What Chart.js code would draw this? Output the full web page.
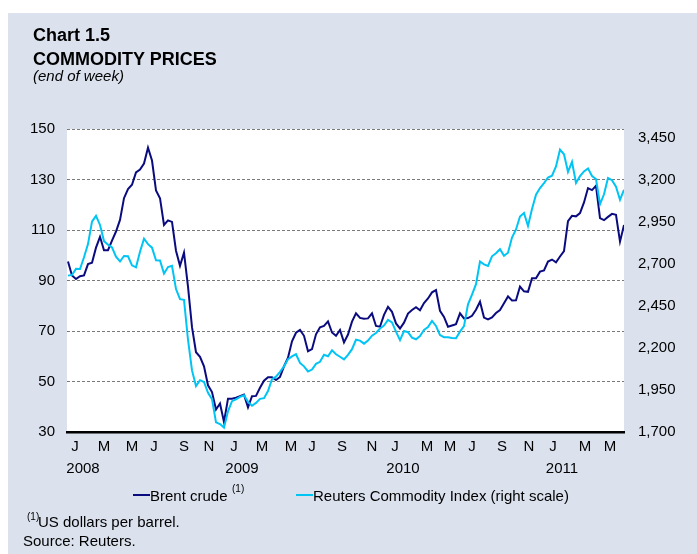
<!DOCTYPE html>
<html>
<head>
<meta charset="utf-8">
<script src="https://cdn.jsdelivr.net/npm/chart.js@4.4.1/dist/chart.umd.min.js"></script>
<style>
  html, body { margin: 0; padding: 0; background: #ffffff; }
  body { width: 697px; height: 554px; position: relative; overflow: hidden;
         font-family: 'Liberation Sans', Arial, sans-serif; color: #000; }
  #panel { position: absolute; left: 8px; top: 13px; width: 689px; height: 541px; background: #dbe2ee; }
  #cv { position: absolute; left: 0; top: 0; }
  .t { position: absolute; white-space: nowrap; }
  .h { font-weight: bold; font-size: 18px; line-height: 18px; left: 33px; }
  .sub { font-style: italic; font-size: 15px; line-height: 15px; left: 33px; top: 68px; }
  .lg { font-size: 15px; line-height: 15px; top: 488px; }
  .sw { position: absolute; height: 2px; top: 494px; }
  .sup { font-size: 10px; line-height: 10px; }
  .fn { font-size: 15px; line-height: 15px; }
</style>
</head>
<body>
<div id="panel"></div>
<canvas id="cv" width="697" height="554"></canvas>
<div class="t h" style="top:26px">Chart 1.5</div>
<div class="t h" style="top:50px">COMMODITY PRICES</div>
<div class="t sub">(end of week)</div>

<div class="sw" style="left:133px;width:17px;background:#0b0b80"></div>
<div class="t lg" style="left:150px">Brent crude</div>
<div class="t sup" style="left:232px;top:484px">(1)</div>
<div class="sw" style="left:296px;width:17px;background:#00c4f4"></div>
<div class="t lg" style="left:313px">Reuters Commodity Index (right scale)</div>

<div class="t sup" style="left:27px;top:512px">(1)</div>
<div class="t fn" style="left:38px;top:514px">US dollars per barrel.</div>
<div class="t fn" style="left:23px;top:533px">Source: Reuters.</div>

<script>
// Brent crude, US dollars per barrel (left scale), end of week, Jan 2008 - Jul 2011
const brentCrude = [
  97.5, 92, 90.6, 91.7, 92, 96.5, 97, 103, 107.3, 102,
  102, 105.8, 109.4, 114, 122.6, 126.2, 127.9, 132.8, 133.9, 136.3,
  142.6, 137.5, 125.7, 122.6, 112, 113.8, 113.2, 101.8, 95.8, 101,
  87.6, 71.5, 61.6, 59.8, 56, 48.5, 45.8, 38.9, 41.3, 34,
  43.2, 43.2, 43.6, 44.2, 44.8, 39.8, 44.2, 44.3, 47.5, 50.3,
  51.7, 51.7, 50.6, 51.8, 56, 59.4, 65.9, 69.3, 70.4, 68.1,
  62, 62.8, 68.7, 71.5, 72, 73.8, 69.4, 68.1, 70.4, 65.5,
  68.6, 73.7, 77, 75.2, 74.9, 75, 77, 72, 71.7, 76.4,
  79.6, 77.6, 73, 71, 73.3, 76.9, 78.3, 79.4, 78.2, 81.1,
  82.9, 85.3, 86.2, 78, 75.6, 71.7, 72.2, 72.7, 77, 75,
  75.1, 76, 78.4, 81.6, 75.3, 74.6, 75.4, 77.1, 78.3, 81,
  83.7, 82.1, 82.2, 87.6, 85.7, 85.5, 90.9, 90.9, 93.5, 94,
  97.5, 98.3, 97.2, 99.5, 101.6, 113.5, 115.6, 115.4, 116.7, 120.9,
  126.6, 125.8, 127.5, 114.7, 113.9, 115.2, 116.4, 116, 105.4, 112
];
// Reuters Commodity Index (right scale)
const reutersIndex = [
  2629, 2633, 2669, 2668, 2738, 2816, 2950, 2984, 2930, 2834,
  2813, 2797, 2741, 2713, 2746, 2744, 2690, 2678, 2771, 2848,
  2816, 2795, 2720, 2719, 2641, 2680, 2687, 2549, 2489, 2485,
  2248, 2066, 1973, 2008, 1997, 1933, 1895, 1757, 1747, 1726,
  1823, 1883, 1894, 1909, 1918, 1879, 1856, 1873, 1897, 1901,
  1943, 2014, 2029, 2057, 2090, 2132, 2149, 2162, 2110, 2090,
  2060, 2071, 2105, 2117, 2159, 2150, 2185, 2162, 2147, 2131,
  2158, 2192, 2248, 2243, 2225, 2243, 2272, 2288, 2315, 2332,
  2366, 2351, 2296, 2246, 2300, 2293, 2261, 2251, 2270, 2306,
  2323, 2360, 2330, 2276, 2263, 2263, 2258, 2257, 2296, 2329,
  2458, 2516, 2578, 2713, 2696, 2687, 2744, 2762, 2786, 2747,
  2765, 2855, 2903, 2980, 3001, 2924, 3025, 3110, 3149, 3179,
  3212, 3223, 3278, 3377, 3350, 3245, 3305, 3179, 3220, 3248,
  3266, 3221, 3203, 3053, 3112, 3209, 3196, 3157, 3080, 3139
];
// Month tick labels and the observation index where each one sits
const monthLabels = ['J','M','M','J','S','N','J','M','M','J','S','N','J','M','M','J','S','N','J','M','M'];
const monthTickAt = [1.75,9,16,21.5,29,35.25,41.5,48.5,55.75,61,68.5,76,81.75,89.75,95.5,101,108.5,115.25,121.25,129.25,135.5];
const yearLabels = ['2008','2009','2010','2011'];
const yearTickAt = [3.75,43.5,83.75,123.5];
const leftTicks = [30,50,70,90,110,130,150];
const rightTicks = [1700,1950,2200,2450,2700,2950,3200,3450];

Chart.defaults.font.family = "'Liberation Sans', Arial, sans-serif";
Chart.defaults.font.size = 15;
Chart.defaults.color = '#000';

const plotBg = {
  id: 'plotBg',
  beforeDraw(chart) {
    const a = chart.chartArea, c = chart.ctx;
    c.save(); c.fillStyle = '#ffffff';
    c.fillRect(a.left, a.top, a.right - a.left, a.bottom - a.top);
    c.restore();
  }
};

new Chart(document.getElementById('cv'), {
  type: 'line',
  data: {
    datasets: [
      { label: 'Reuters Commodity Index (right scale)', yAxisID: 'y2', order: 0,
        data: reutersIndex.map((v, i) => ({ x: i, y: v })),
        borderColor: '#00c4f4', borderWidth: 2, pointRadius: 0, tension: 0 },
      { label: 'Brent crude', yAxisID: 'y', order: 1,
        data: brentCrude.map((v, i) => ({ x: i, y: v })),
        borderColor: '#0b0b80', borderWidth: 2, pointRadius: 0, tension: 0 }
    ]
  },
  options: {
    responsive: false, animation: false, devicePixelRatio: 1,
    layout: { padding: { top: 129, left: 0, right: 0, bottom: 78 } },
    plugins: { legend: { display: false }, tooltip: { enabled: false } },
    scales: {
      x: {
        type: 'linear', position: 'bottom', min: -0.25, max: 139, weight: 0,
        afterBuildTicks: s => { s.ticks = monthTickAt.map(v => ({ value: v })); },
        afterFit: s => { s.height = 22; },
        ticks: { autoSkip: false, maxRotation: 0, padding: 6,
                 callback: (v, i) => monthLabels[i] },
        grid: { display: false, drawTicks: false, tickLength: 0 },
        border: { display: true, color: '#000', width: 2.5 }
      },
      x2: {
        type: 'linear', position: 'bottom', min: -0.25, max: 139, weight: 1,
        afterBuildTicks: s => { s.ticks = yearTickAt.map(v => ({ value: v })); },
        afterFit: s => { s.height = 22; },
        ticks: { autoSkip: false, maxRotation: 0, padding: 6,
                 callback: (v, i) => yearLabels[i] },
        grid: { display: false, drawTicks: false, tickLength: 0 },
        border: { display: false }
      },
      y: {
        type: 'linear', position: 'left', min: 30, max: 150,
        afterBuildTicks: s => { s.ticks = leftTicks.map(v => ({ value: v })); },
        afterFit: s => { s.width = 67; },
        ticks: { padding: 12 },
        grid: { color: '#7a7a7a', lineWidth: 1, drawTicks: false, tickLength: 0 },
        border: { display: false, dash: [3, 2] }
      },
      y2: {
        type: 'linear', position: 'right', min: 1700, max: 3500,
        afterBuildTicks: s => { s.ticks = rightTicks.map(v => ({ value: v })); },
        afterFit: s => { s.width = 73; },
        ticks: { padding: 14, callback: v => v.toLocaleString('en-US') },
        grid: { display: false, drawTicks: false, tickLength: 0 },
        border: { display: false }
      }
    }
  },
  plugins: [plotBg]
});
</script>
</body>
</html>
